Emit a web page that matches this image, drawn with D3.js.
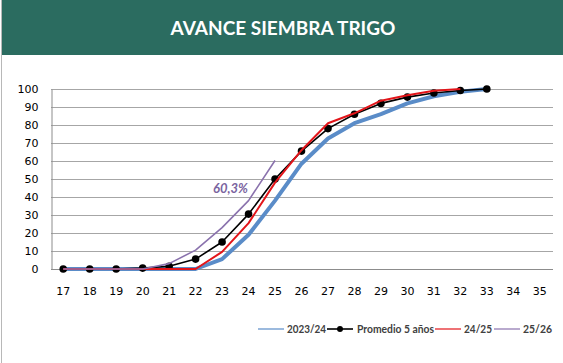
<!DOCTYPE html>
<html>
<head>
<meta charset="utf-8">
<script src="https://cdn.jsdelivr.net/npm/d3@7"></script>
<style>
  body { margin: 0; background: #ffffff; }
  svg { display: block; }
</style>
</head>
<body>
<div id="chart"></div>
<script>
// data

const weeks = [17, 18, 19, 20, 21, 22, 23, 24, 25, 26, 27, 28, 29, 30, 31, 32, 33, 34, 35];
const yTicks = [0, 10, 20, 30, 40, 50, 60, 70, 80, 90, 100];

const s2023 = [0, 0, 0, 0, 0, 0, 5.5, 19, 38, 58.5, 72.5, 81, 86, 92, 96, 98.5, 100];
const promedio = [0, 0, 0, 0.5, 1.5, 5.5, 15, 30.5, 50, 65.5, 78, 86, 92, 95.5, 97.8, 99.2, 100];
const s2425 = [0, 0, 0, 0, 0, 0, 9.5, 25.5, 48, 66, 81, 86.5, 93.5, 96.5, 99, 100];
const s2526 = [0, 0, 0, 0, 3, 10.5, 23, 38, 60.3];

const lastLabel = "60,3%";

// config

const width = 563;
const height = 363;
const margin = { top: 89, bottom: 94, left: 51, right: 10 };

const svg = d3.select("#chart")
  .append("svg")
  .attr("width", width)
  .attr("height", height);

// header band

svg.append("rect")
  .attr("x", 2)
  .attr("y", 0)
  .attr("width", width - 2)
  .attr("height", 55)
  .attr("fill", "#2b6c60");

svg.append("line")
  .attr("x1", 1.5).attr("x2", 1.5)
  .attr("y1", 0).attr("y2", height)
  .attr("stroke", "#b8b8b8");

svg.append("text")
  .attr("x", 283)
  .attr("y", 35)
  .attr("text-anchor", "middle")
  .style("font-family", "Lato, 'Open Sans', sans-serif")
  .style("font-weight", "bold")
  .style("font-size", "19px")
  .style("fill", "#ffffff")
  .text("AVANCE SIEMBRA TRIGO");

// scales

const xScale = d3.scaleBand()
  .domain(weeks)
  .range([margin.left - 1, width - margin.right])
  .paddingInner(0);

const yScale = d3.scaleLinear()
  .domain([0, 100])
  .range([height - margin.bottom, margin.top]);

const cx = w => xScale(w) + xScale.bandwidth() / 2;

// grid

svg.append("g")
  .selectAll("line")
  .data(yTicks)
  .join("line")
  .attr("x1", margin.left)
  .attr("x2", width - margin.right)
  .attr("y1", d => Math.round(yScale(d)) + 0.5)
  .attr("y2", d => Math.round(yScale(d)) + 0.5)
  .attr("stroke", d => d === 0 ? "#8c8c8c" : "#a6a6a6")
  .attr("stroke-width", 1);

// axes

const yAxis = d3.axisLeft(yScale)
  .tickValues(yTicks)
  .tickSize(0)
  .tickPadding(13);

svg.append("g")
  .attr("transform", "translate(" + (margin.left + 0.5) + ",0)")
  .call(yAxis)
  .call(g => g.select(".domain").attr("stroke", "#8c8c8c"))
  .call(g => g.selectAll(".tick text")
    .attr("fill", "#000000")
    .style("font-family", "'DejaVu Sans', Verdana, sans-serif")
    .style("font-size", "11px"));

const xAxis = d3.axisBottom(xScale)
  .tickSize(0)
  .tickPadding(18);

svg.append("g")
  .attr("transform", "translate(0," + (height - margin.bottom) + ")")
  .call(xAxis)
  .call(g => g.select(".domain").remove())
  .call(g => g.selectAll(".tick text")
    .attr("fill", "#000000")
    .style("font-family", "'DejaVu Sans', Verdana, sans-serif")
    .style("font-size", "11px"));

// lines

const line = d3.line()
  .x((d, i) => cx(weeks[i]))
  .y(d => yScale(d));

const series = [
  { name: "2023/24", values: s2023, color: "#5a8cc8", width: 4 },
  { name: "Promedio 5 años", values: promedio, color: "#000000", width: 1.6, marker: true },
  { name: "24/25", values: s2425, color: "#e3151a", width: 2 },
  { name: "25/26", values: s2526, color: "#8a72ad", width: 1.6 }
];

series.forEach(s => {
  svg.append("path")
    .attr("d", line(s.values))
    .attr("fill", "none")
    .attr("stroke", s.color)
    .attr("stroke-width", s.width)
    .attr("stroke-linejoin", "round");

  if (s.marker) {
    svg.append("g")
      .selectAll("circle")
      .data(s.values)
      .join("circle")
      .attr("cx", (d, i) => cx(weeks[i]))
      .attr("cy", d => yScale(d))
      .attr("r", 3.8)
      .attr("fill", s.color);
  }
});

// label for current campaign

svg.append("text")
  .attr("x", cx(weeks[s2526.length - 1]) - 27)
  .attr("y", yScale(s2526[s2526.length - 1]) + 33)
  .attr("text-anchor", "end")
  .style("font-family", "Lato, 'Open Sans', sans-serif")
  .style("font-style", "italic")
  .style("font-weight", "bold")
  .style("font-size", "13px")
  .style("fill", "#7a64a0")
  .text(lastLabel);

// legend

const legendItems = [
  { x: 258, tx: 287, w: 39 },
  { x: 327, tx: 357, w: 77 },
  { x: 435, tx: 464, w: 28 },
  { x: 494, tx: 523, w: 29 }
];
const legendY = 329;

const legend = svg.append("g");

series.forEach((s, i) => {
  const it = legendItems[i];
  legend.append("line")
    .attr("x1", it.x).attr("x2", it.x + 26)
    .attr("y1", legendY).attr("y2", legendY)
    .attr("stroke", s.color)
    .attr("stroke-width", s.marker ? 1.6 : 1.2);
  if (s.marker) {
    legend.append("circle")
      .attr("cx", it.x + 13)
      .attr("cy", legendY)
      .attr("r", 3)
      .attr("fill", s.color);
  }
  legend.append("text")
    .attr("x", it.tx)
    .attr("y", legendY + 4)
    .attr("textLength", it.w)
    .attr("lengthAdjust", "spacingAndGlyphs")
    .style("font-family", "Lato, 'Open Sans', sans-serif")
    .style("font-weight", "bold")
    .style("font-size", "11.5px")
    .style("fill", "#404040")
    .text(s.name);
});
</script>
</body>
</html>
